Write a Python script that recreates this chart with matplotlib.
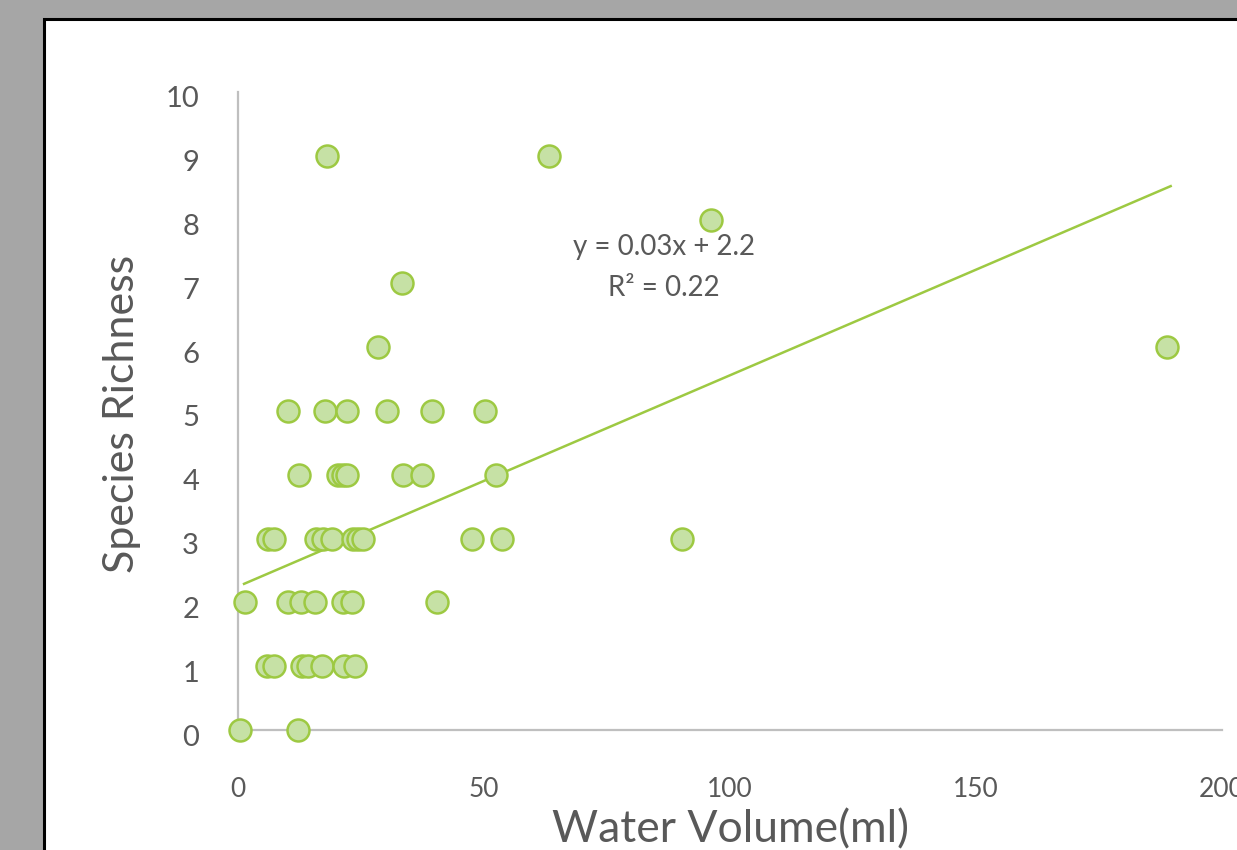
import numpy as np
import matplotlib
matplotlib.use("Agg")
import matplotlib.pyplot as plt
from matplotlib.patches import Rectangle
from matplotlib.transforms import ScaledTranslation

# ---- data ----
water_volume = [0.4, 12.2,
                5.8, 7.4, 13.0, 14.2, 17.1, 21.5, 23.8,
                1.4, 10.1, 12.8, 15.7, 21.4, 23.2, 40.5,
                6.1, 7.3, 15.9, 17.3, 19.1, 23.4, 24.4, 25.4, 47.6, 53.7, 90.2,
                12.3, 20.4, 21.4, 22.1, 33.5, 37.3, 52.4,
                10.1, 17.7, 22.1, 30.2, 39.4, 50.3,
                28.5, 188.8,
                33.3,
                96.1,
                18.1, 63.2]
species_richness = [0, 0,
                    1, 1, 1, 1, 1, 1, 1,
                    2, 2, 2, 2, 2, 2, 2,
                    3, 3, 3, 3, 3, 3, 3, 3, 3, 3, 3,
                    4, 4, 4, 4, 4, 4, 4,
                    5, 5, 5, 5, 5, 5,
                    6, 6,
                    7,
                    8,
                    9, 9]
x_ticks = [0, 50, 100, 150, 200]
y_ticks = [0, 1, 2, 3, 4, 5, 6, 7, 8, 9, 10]
trend_slope = 0.0331
trend_intercept = 2.25
equation_text = "y = 0.03x + 2.2"
r2_text = "R² = 0.22"
x_title = "Water Volume(ml)"
y_title = "Species Richness"

TXT = "#595959"
GREEN_EDGE = "#9dc942"
GREEN_FILL = "#c6e1a5"
AXIS = "#bfbfbf"

plt.rcParams['font.family'] = ['Lato', 'DejaVu Sans']

fig = plt.figure(figsize=(12.37, 8.5), dpi=100)
fig.patch.set_facecolor("#a6a6a6")

panel = Rectangle((43.5 / 1237, -0.1), 2.0, (1 - 19.5 / 850) + 0.1,
                  transform=fig.transFigure, facecolor="white",
                  edgecolor="black", linewidth=2.2, zorder=0)
fig.add_artist(panel)

ax = fig.add_axes([238 / 1237, 120 / 850, 984 / 1237, 638 / 850])
ax.set_facecolor("none")
ax.set_xlim(0, 200)
ax.set_ylim(0, 10)

for s in ["top", "right"]:
    ax.spines[s].set_visible(False)
for s in ["left", "bottom"]:
    ax.spines[s].set_color(AXIS)
    ax.spines[s].set_linewidth(1.6)

ax.set_xticks(x_ticks)
ax.set_yticks(y_ticks)
ax.tick_params(axis="x", length=0, pad=34, labelsize=19, labelcolor=TXT)
ax.tick_params(axis="y", length=0, pad=28, labelsize=21, labelcolor=TXT)

for lbl in ax.get_yticklabels():
    lbl.set_transform(lbl.get_transform() + ScaledTranslation(0, -5 / 100, fig.dpi_scale_trans))

xs = np.array(water_volume)
ys = np.array(species_richness)

# trendline over data range
xl = np.array([xs.min() + 0.6, xs.max() + 1.0])
ax.plot(xl, trend_slope * xl + trend_intercept, color=GREEN_EDGE, lw=1.8, zorder=2,
        solid_capstyle="butt")

ax.scatter(xs, ys, s=250, facecolor=GREEN_FILL, edgecolor=GREEN_EDGE, linewidth=1.8,
           zorder=3, clip_on=False)

ax.text(86.5, (730 - 255) / 63.8, equation_text, ha="center", va="baseline",
        fontsize=20, color=TXT)
ax.text(86.5, (730 - 296) / 63.8, r2_text, ha="center", va="baseline",
        fontsize=20, color=TXT)

fig.text(731 / 1237, 1 - 842 / 850, x_title, ha="center", va="baseline",
         fontsize=32, color=TXT)
fig.text(122 / 1237, 1 - 414 / 850, y_title, ha="center", va="center",
         rotation=90, fontsize=31, color=TXT)

fig.savefig("out.png", dpi=100, facecolor=fig.get_facecolor())
